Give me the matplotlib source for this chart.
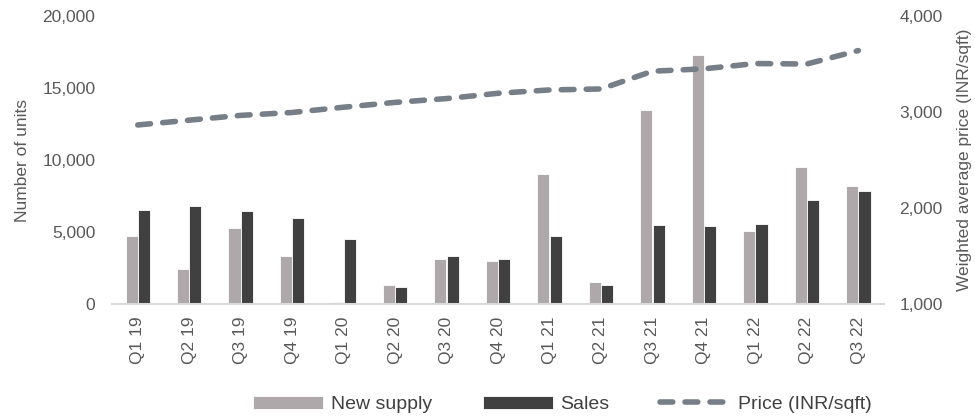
import numpy as np
from matplotlib import pyplot as plt

quarters = ['Q1 19', 'Q2 19', 'Q3 19', 'Q4 19', 'Q1 20', 'Q2 20', 'Q3 20', 'Q4 20',
            'Q1 21', 'Q2 21', 'Q3 21', 'Q4 21', 'Q1 22', 'Q2 22', 'Q3 22']
new_supply = [4700, 2400, 5250, 3350, 150, 1350, 3150, 3000,
              9050, 1550, 13450, 17300, 5050, 9500, 8200]
sales = [6500, 6800, 6480, 5980, 4540, 1200, 3350, 3150,
         4720, 1300, 5500, 5430, 5580, 7250, 7880]
price = [2865, 2915, 2965, 2995, 3050, 3100, 3140, 3195,
         3230, 3240, 3425, 3450, 3505, 3500, 3640]

plt.rcParams['font.family'] = ['Liberation Sans', 'DejaVu Sans']
grey_txt = '#595959'

fig = plt.figure(figsize=(9.75, 4.17), dpi=100)
ax = fig.add_axes([0.1149, 0.271, 0.7918, 0.6906])
ax2 = ax.twinx()

x = np.arange(len(quarters))
w = 0.235
b1 = ax.bar(x - 0.12, new_supply, w, color='#AEA8AB', edgecolor='white', linewidth=0.6,
            label='New supply')
b2 = ax.bar(x + 0.12, sales, w, color='#404040', edgecolor='white', linewidth=0.6,
            label='Sales')
ln, = ax2.plot(x, price, color='#767E87', lw=4, dashes=(2.3, 2.2),
               dash_capstyle='round', label='Price (INR/sqft)')

ax.set_xlim(-0.5, len(quarters) - 0.5)
ax.set_ylim(0, 20000)
ax2.set_ylim(1000, 4000)
ax.set_yticks(range(0, 20001, 5000))
ax.set_yticklabels([f'{v:,}' for v in range(0, 20001, 5000)])
ax2.set_yticks(range(1000, 4001, 1000))
ax2.set_yticklabels([f'{v:,}' for v in range(1000, 4001, 1000)])
ax.set_xticks(x)
ax.set_xticklabels(quarters, rotation=90)

for a in (ax, ax2):
    for s in a.spines.values():
        s.set_visible(False)
    a.tick_params(length=0, labelsize=12.5, labelcolor=grey_txt)
ax.spines['bottom'].set_visible(True)
ax.spines['bottom'].set_color('#D9D9D9')
ax.spines['bottom'].set_linewidth(1.5)
ax.tick_params(axis='y', pad=12)
ax.tick_params(axis='x', pad=9)
ax2.tick_params(axis='y', pad=11)

ax.set_ylabel('Number of units', fontsize=12.5, color=grey_txt, labelpad=9)
ax2.set_ylabel('Weighted average price (INR/sqft)', fontsize=12.5, color=grey_txt,
               labelpad=10)

fig.legend(handles=[b1, b2, ln], loc='center', bbox_to_anchor=(0.577, 0.03), ncol=3,
           frameon=False, fontsize=14, handlelength=3.6, handletextpad=0.4,
           columnspacing=2.6, labelcolor='#404040')

fig.savefig('out.png', dpi=100)
